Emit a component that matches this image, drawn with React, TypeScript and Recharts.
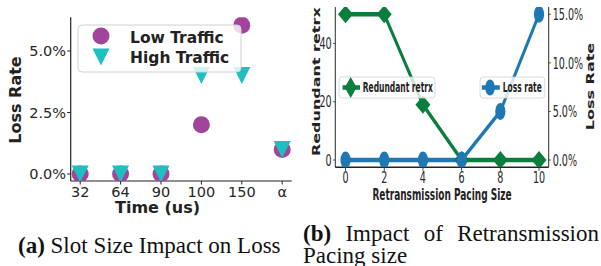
import React from "react";
import {
  ScatterChart,
  Scatter,
  LineChart,
  Line,
  XAxis,
  YAxis,
} from "recharts";

// (a) slot size vs loss
const slotLabels = ["32", "64", "90", "100", "150", "α"];
const lowTraffic = [0, 0, 0, 2, 6.05, 1];
const highTraffic = [0, 0, 0, 4, 4, 1];
const slotTicks = [0, 2.5, 5];

// (b) retransmission pacing
const pacingSizes = [0, 2, 4, 6, 8, 10];
const redundantRetx = [50, 50, 19, 0, 0, 0];
const lossRate = [0, 0, 0, 0, 5, 15];
const retxTicks = [0, 20, 40];
const lossTicks = [0, 5, 10, 15];

const PURPLE = "#a3449c";
const TEAL = "#1dbfbf";
const GREEN = "#0a7e3d";
const BLUE = "#1f77b4";
const SPINE = "#222";
const FONT = "DejaVu Sans";

const lowData = slotLabels.map((_, i) => ({ i, v: lowTraffic[i] }));
const highData = slotLabels.map((_, i) => ({ i, v: highTraffic[i] }));
const pacingData = pacingSizes.map((p, i) => ({
  p,
  retx: redundantRetx[i],
  loss: lossRate[i],
}));

const Dot = ({ cx, cy, r = 8.5, fill }: any) => (
  <circle cx={cx} cy={cy} r={r} fill={fill} />
);

const TriDown = ({ cx, cy, s = 8.5, fill }: any) => (
  <polygon
    points={`${cx - s},${cy - s} ${cx + s},${cy - s} ${cx},${cy + s}`}
    fill={fill}
  />
);

const Diamond = ({ cx, cy, w = 12.5, h = 9, fill }: any) => (
  <polygon
    points={`${cx},${cy - h} ${cx + w},${cy} ${cx},${cy + h} ${cx - w},${cy}`}
    fill={fill}
  />
);

// axis title at a fixed place; px/py so recharts' clone doesn't clobber them
const Title = ({ px, py, text, size = 16, rotate = false }: any) => (
  <text
    x={px}
    y={py}
    transform={rotate ? `rotate(-90 ${px} ${py})` : undefined}
    textAnchor="middle"
    dominantBaseline={rotate ? "central" : undefined}
    fontFamily={FONT}
    fontWeight="bold"
    fontSize={size}
    fill="#222"
  >
    {text}
  </text>
);

const tickStyle = (size: number) => ({
  fill: "#262626",
  fontSize: size,
  fontFamily: FONT,
});

const overlay: React.CSSProperties = {
  position: "absolute",
  left: 0,
  top: 0,
  pointerEvents: "none",
};

function SlotLegend() {
  return (
    <svg width={300} height={220} style={overlay}>
      <rect x={78} y={25} width={163} height={47} rx={4} fill="#fff" fillOpacity={0.8} stroke="#d0d0d0" />
      <Dot cx={101} cy={36} fill={PURPLE} />
      <TriDown cx={101} cy={57} fill={TEAL} />
      <text x={130} y={42.5} fontFamily={FONT} fontWeight="bold" fontSize={15.5} fill="#222">
        Low Traffic
      </text>
      <text x={130} y={63} fontFamily={FONT} fontWeight="bold" fontSize={15.5} fill="#222">
        High Traffic
      </text>
    </svg>
  );
}

function PacingLegend() {
  return (
    <svg width={502} height={215} style={overlay}>
      <rect x={65} y={77} width={160} height={21} rx={4} fill="#fff" fillOpacity={0.8} stroke="#d0d0d0" />
      <line x1={71} x2={100} y1={87.5} y2={87.5} stroke={GREEN} strokeWidth={4.5} />
      <Diamond cx={84.5} cy={87.5} w={10} h={10.5} fill={GREEN} />
      <text x={104.5} y={92} fontFamily={FONT} fontWeight="bold" fontSize={14} fill="#222"
        textLength={117} lengthAdjust="spacingAndGlyphs">
        Redundant retrx
      </text>
      <rect x={300} y={77} width={108} height={21} rx={4} fill="#fff" fillOpacity={0.8} stroke="#d0d0d0" />
      <line x1={303} x2={333} y1={87.5} y2={87.5} stroke={BLUE} strokeWidth={4.5} />
      <Dot cx={316.7} cy={87.5} r={8} fill={BLUE} />
      <text x={338} y={92} fontFamily={FONT} fontWeight="bold" fontSize={14} fill="#222"
        textLength={65} lengthAdjust="spacingAndGlyphs">
        Loss rate
      </text>
    </svg>
  );
}

function SlotChart() {
  const slotDomain = [-0.235, 5.235];
  const lossDomain = [-0.285, 6.37];
  return (
    <ScatterChart width={300} height={220} margin={{ top: 17.3, right: 8.3, bottom: 0, left: 0 }}>
      <XAxis
        type="number"
        dataKey="i"
        domain={slotDomain}
        ticks={[0, 1, 2, 3, 4, 5]}
        tickFormatter={(i: number) => slotLabels[i]}
        allowDataOverflow
        height={39}
        tickSize={3.5}
        tickMargin={2}
        interval={0}
        axisLine={{ stroke: SPINE, strokeWidth: 1.2 }}
        tickLine={{ stroke: SPINE }}
        tick={tickStyle(14.5)}
        label={<Title px={157.5} py={212.5} text="Time (us)" />}
      />
      <XAxis xAxisId="top" orientation="top" type="number" domain={slotDomain} height={0}
        tick={false} tickLine={false} axisLine={{ stroke: SPINE, strokeWidth: 1.2 }} />
      <YAxis
        type="number"
        dataKey="v"
        domain={lossDomain}
        ticks={slotTicks}
        tickFormatter={(v: number) => `${v.toFixed(1)}%`}
        allowDataOverflow
        width={70.7}
        tickSize={3.5}
        tickMargin={1.2}
        interval={0}
        axisLine={{ stroke: SPINE, strokeWidth: 1.2 }}
        tickLine={{ stroke: SPINE }}
        tick={tickStyle(14.5)}
        label={<Title px={15.5} py={100} text="Loss Rate" rotate />}
      />
      <YAxis yAxisId="right" orientation="right" type="number" domain={lossDomain} width={0}
        tick={false} tickLine={false} axisLine={{ stroke: SPINE, strokeWidth: 1.2 }} />
      <Scatter data={lowData} isAnimationActive={false}
        shape={(p: any) => <Dot cx={p.cx} cy={p.cy} fill={PURPLE} />} />
      <Scatter data={highData} isAnimationActive={false}
        shape={(p: any) => <TriDown cx={p.cx} cy={p.cy} fill={TEAL} />} />
    </ScatterChart>
  );
}

// drawn wide, then squeezed horizontally like the figure in the paper
function PacingChart() {
  const xDomain = [-0.53, 10.5];
  return (
    <LineChart width={502} height={215} data={pacingData} margin={{ top: 7, right: 0, bottom: 0, left: 0 }}>
      <XAxis
        type="number"
        dataKey="p"
        domain={xDomain}
        ticks={pacingSizes}
        allowDataOverflow
        height={47.7}
        tickSize={3.5}
        tickMargin={1}
        interval={0}
        axisLine={{ stroke: SPINE, strokeWidth: 1.4 }}
        tickLine={{ stroke: SPINE, strokeWidth: 1.4 }}
        tick={tickStyle(16)}
        label={<Title px={236.7} py={200} text="Retransmission Pacing Size" size={15} />}
      />
      <XAxis xAxisId="top" orientation="top" type="number" domain={xDomain} height={0}
        tick={false} tickLine={false} axisLine={{ stroke: SPINE, strokeWidth: 1.4 }} />
      <YAxis
        yAxisId="left"
        type="number"
        domain={[-2.5, 52.5]}
        ticks={retxTicks}
        allowDataOverflow
        width={58.8}
        tickSize={3.5}
        tickMargin={2.5}
        interval={0}
        axisLine={{ stroke: SPINE, strokeWidth: 1.6 }}
        tickLine={{ stroke: SPINE }}
        tick={tickStyle(16)}
        label={<Title px={27.8} py={81.7} text="Redundant retrx" rotate />}
      />
      <YAxis
        yAxisId="right"
        orientation="right"
        type="number"
        domain={[-0.75, 15.75]}
        ticks={lossTicks}
        tickFormatter={(v: number) => `${v.toFixed(1)}%`}
        allowDataOverflow
        width={87.5}
        tickSize={3.5}
        tickMargin={3.2}
        interval={0}
        axisLine={{ stroke: SPINE, strokeWidth: 1.6 }}
        tickLine={{ stroke: SPINE }}
        tick={tickStyle(16)}
        label={<Title px={485} py={86.5} text="Loss Rate" rotate />}
      />
      <Line
        yAxisId="left"
        dataKey="retx"
        type="linear"
        stroke={GREEN}
        strokeWidth={4.5}
        isAnimationActive={false}
        dot={(p: any) => <Diamond key={`d${p.index}`} cx={p.cx} cy={p.cy} fill={GREEN} />}
      />
      <Line
        yAxisId="right"
        dataKey="loss"
        type="linear"
        stroke={BLUE}
        strokeWidth={4.5}
        isAnimationActive={false}
        dot={(p: any) => <Dot key={`c${p.index}`} cx={p.cx} cy={p.cy} fill={BLUE} />}
      />
    </LineChart>
  );
}

const captionStyle: React.CSSProperties = {
  position: "absolute",
  fontFamily: "Liberation Serif",
  fontSize: 23,
  lineHeight: "22px",
  color: "#111",
};

export default function App() {
  return (
    <div style={{ position: "absolute", left: 0, top: 0, width: 601, height: 266, background: "#fff", overflow: "hidden" }}>
      <div style={{ position: "absolute", left: 0, top: 0, width: 300, height: 220 }}>
        <SlotChart />
        <SlotLegend />
      </div>
      <div style={{ position: "absolute", left: 300, top: 0, width: 502, height: 215, transform: "scaleX(0.6)", transformOrigin: "0 0" }}>
        <PacingChart />
        <PacingLegend />
      </div>
      <div style={{ ...captionStyle, left: 18, top: 235, whiteSpace: "nowrap" }}>
        <b>(a)</b> Slot Size Impact on Loss
      </div>
      <div style={{ ...captionStyle, left: 303, top: 223, width: 296, textAlign: "justify" }}>
        <b>(b)</b> Impact of Retransmission Pacing size
      </div>
    </div>
  );
}
